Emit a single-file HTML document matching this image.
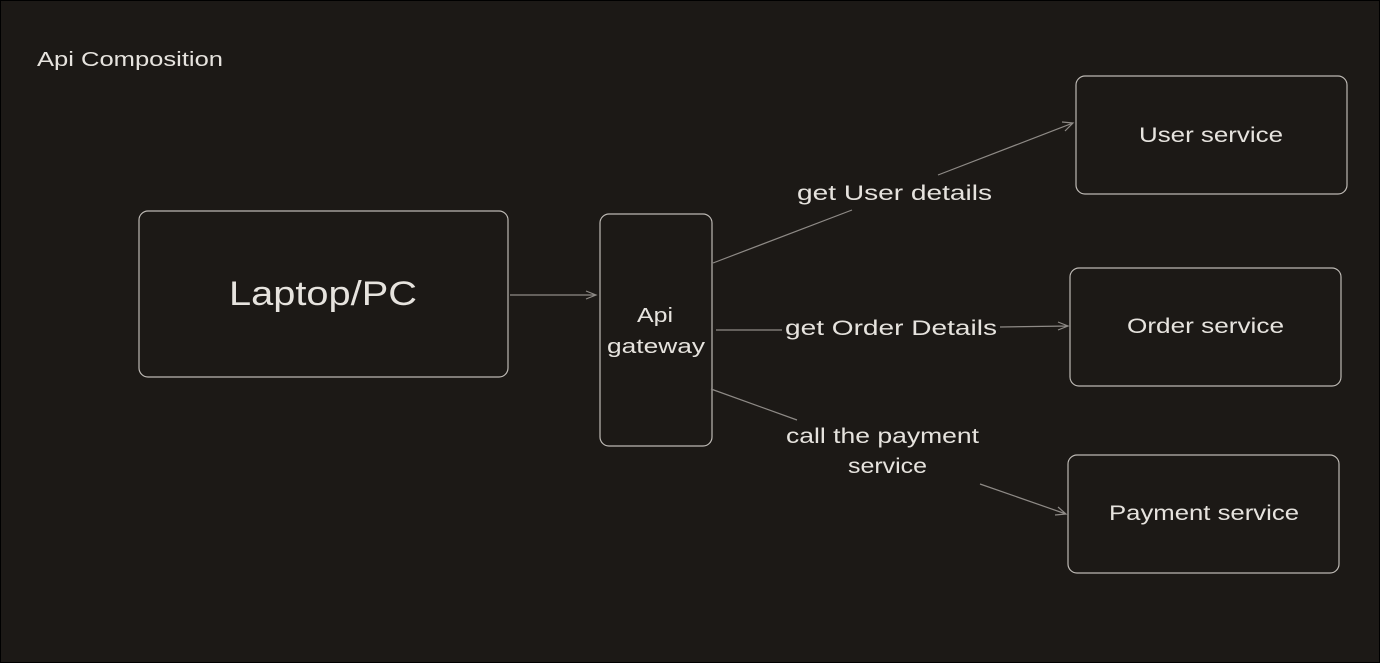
<!DOCTYPE html>
<html><head><meta charset="utf-8"><style>
html,body{margin:0;padding:0;background:#1c1916;}
svg{display:block}
text{font-family:"Comic Sans MS","Liberation Sans",sans-serif;fill:#e6e3de;}
</style></head><body>
<svg width="1380" height="663" viewBox="0 0 1380 663" xmlns="http://www.w3.org/2000/svg">
<rect x="0.5" y="0.5" width="1379" height="662" fill="#1c1916" stroke="#000" stroke-width="1"/>
<g fill="none" stroke="#bdb9b4" stroke-width="1.2">
<rect x="139" y="211" width="369" height="166" rx="9"/>
<rect x="600" y="214" width="112" height="232" rx="9"/>
<rect x="1076" y="76" width="271" height="118" rx="9"/>
<rect x="1070" y="268" width="271" height="118" rx="9"/>
<rect x="1068" y="455" width="271" height="118" rx="9"/>
</g>
<g fill="none" stroke="#8e8a86" stroke-width="1.2">
<path d="M510 295 L596 295 M586 291 L596 295 L586 299"/>
<path d="M713 263 L852 210"/>
<path d="M938 175 L1073 123 M1062 122 L1073 123 L1065 131"/>
<path d="M716 330 L782 330"/>
<path d="M1000 327 L1068 326 M1058 322 L1068 326 L1058 330"/>
<path d="M711 389 L797 420"/>
<path d="M980 484 L1066 514 M1055 515 L1066 514 L1058 507"/>
</g>
<text x="37" y="66" font-size="20" textLength="186" lengthAdjust="spacingAndGlyphs">Api Composition</text>
<text x="229" y="305" font-size="34" textLength="188" lengthAdjust="spacingAndGlyphs">Laptop/PC</text>
<text x="637" y="322" font-size="20" textLength="36" lengthAdjust="spacingAndGlyphs">Api</text>
<text x="607" y="353" font-size="20" textLength="98" lengthAdjust="spacingAndGlyphs">gateway</text>
<text x="797" y="200" font-size="21" textLength="195" lengthAdjust="spacingAndGlyphs">get User details</text>
<text x="785" y="335" font-size="21" textLength="212" lengthAdjust="spacingAndGlyphs">get Order Details</text>
<text x="786" y="443" font-size="21" textLength="193" lengthAdjust="spacingAndGlyphs">call the payment</text>
<text x="848" y="473" font-size="21" textLength="79" lengthAdjust="spacingAndGlyphs">service</text>
<text x="1139" y="142" font-size="21" textLength="144" lengthAdjust="spacingAndGlyphs">User service</text>
<text x="1127" y="333" font-size="21" textLength="157" lengthAdjust="spacingAndGlyphs">Order service</text>
<text x="1109" y="520" font-size="21" textLength="190" lengthAdjust="spacingAndGlyphs">Payment service</text>
</svg>
</body></html>
